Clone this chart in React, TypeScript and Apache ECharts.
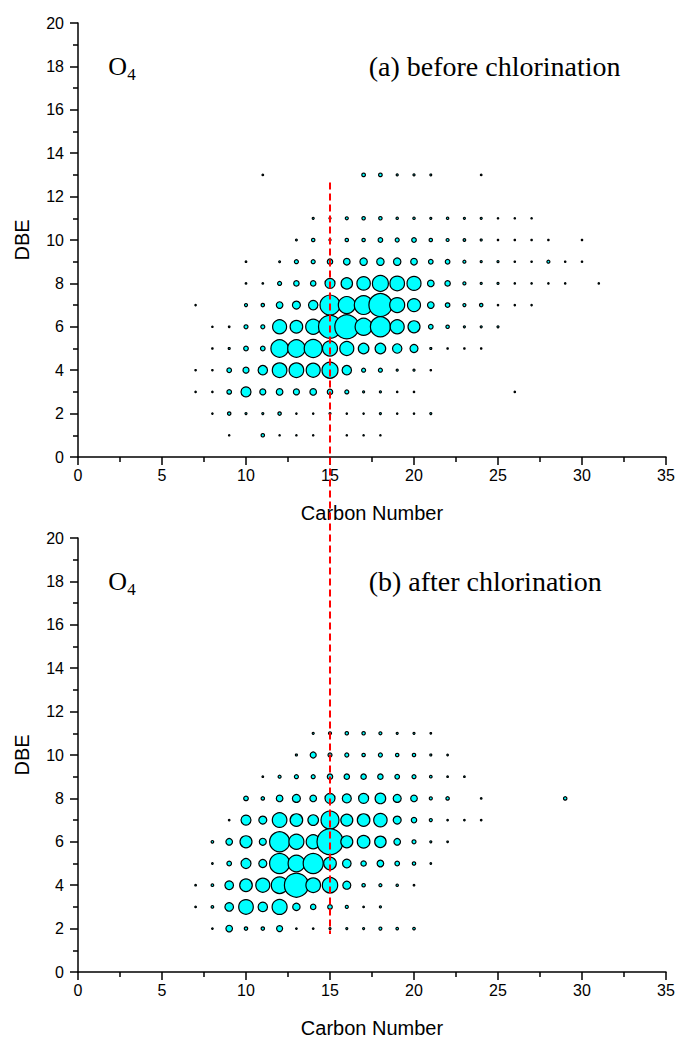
import React, { useEffect, useRef } from "react";
import * as echarts from "echarts";

// [carbon number, DBE, relative abundance (bubble radius units)]
const beforeData: number[][] = [
  // DBE 13
  [11, 13, 0.8], [17, 13, 1.8], [18, 13, 1.8], [19, 13, 1], [20, 13, 1], [21, 13, 0.9], [24, 13, 0.8],
  // DBE 11
  [14, 11, 1], [15, 11, 1], [16, 11, 1.5], [17, 11, 1.7], [18, 11, 1.7], [19, 11, 1.2], [20, 11, 1.2],
  [21, 11, 1], [22, 11, 1.2], [23, 11, 1], [24, 11, 1], [25, 11, 0.7], [26, 11, 0.7], [27, 11, 0.7],
  // DBE 10
  [13, 10, 0.9], [14, 10, 1.7], [15, 10, 1], [16, 10, 1.7], [17, 10, 1.7], [18, 10, 2.3], [19, 10, 2],
  [20, 10, 2.3], [21, 10, 1.7], [22, 10, 1.5], [23, 10, 1.3], [24, 10, 1], [25, 10, 0.7], [26, 10, 0.7],
  [27, 10, 0.7], [28, 10, 0.7], [30, 10, 0.7],
  // DBE 9
  [10, 9, 0.8], [12, 9, 0.9], [13, 9, 2], [14, 9, 2], [15, 9, 2.7], [16, 9, 3.3], [17, 9, 3.7],
  [18, 9, 3.7], [19, 9, 3.7], [20, 9, 3.3], [21, 9, 2.3], [22, 9, 2.3], [23, 9, 1.5], [24, 9, 1],
  [25, 9, 1], [26, 9, 0.7], [27, 9, 0.7], [28, 9, 1.5], [29, 9, 0.7], [30, 9, 0.7],
  // DBE 8
  [10, 8, 0.8], [11, 8, 0.8], [12, 8, 2], [13, 8, 2.7], [14, 8, 2.7], [15, 8, 5], [16, 8, 5.7],
  [17, 8, 6.7], [18, 8, 8], [19, 8, 7.3], [20, 8, 7], [21, 8, 3.3], [22, 8, 2.7], [23, 8, 1.5],
  [24, 8, 1], [25, 8, 1], [26, 8, 0.7], [27, 8, 0.7], [28, 8, 0.7], [29, 8, 0.7], [31, 8, 0.7],
  // DBE 7
  [7, 7, 0.7], [10, 7, 1.5], [11, 7, 1.7], [12, 7, 3.3], [13, 7, 4], [14, 7, 4.7], [15, 7, 10],
  [16, 7, 8.5], [17, 7, 9.3], [18, 7, 11.5], [19, 7, 7.5], [20, 7, 6.5], [21, 7, 3.3], [22, 7, 2.3],
  [23, 7, 1.5], [24, 7, 1.7], [25, 7, 0.7], [26, 7, 0.7], [27, 7, 0.7],
  // DBE 6
  [8, 6, 0.7], [9, 6, 0.8], [10, 6, 2], [11, 6, 2], [12, 6, 7], [13, 6, 6.3], [14, 6, 7.5],
  [15, 6, 11.5], [16, 6, 12], [17, 6, 8.5], [18, 6, 10], [19, 6, 7], [20, 6, 6], [21, 6, 2.3],
  [22, 6, 1.7], [23, 6, 1], [24, 6, 1], [25, 6, 1],
  // DBE 5
  [8, 5, 0.7], [9, 5, 1], [10, 5, 2.3], [11, 5, 2.3], [12, 5, 8.7], [13, 5, 8.7], [14, 5, 9],
  [15, 5, 7.5], [16, 5, 7], [17, 5, 5.3], [18, 5, 5.3], [19, 5, 4.7], [20, 5, 4], [21, 5, 1],
  [22, 5, 0.7], [23, 5, 0.7], [24, 5, 0.7],
  // DBE 4
  [7, 4, 0.7], [8, 4, 0.7], [9, 4, 2.3], [10, 4, 3], [11, 4, 4.7], [12, 4, 7.3], [13, 4, 7.3],
  [14, 4, 7], [15, 4, 8], [16, 4, 4.7], [17, 4, 2], [18, 4, 2], [19, 4, 1], [20, 4, 1], [21, 4, 0.7],
  // DBE 3
  [7, 3, 0.7], [8, 3, 0.7], [9, 3, 2.3], [10, 3, 5], [11, 3, 3], [12, 3, 3.3], [13, 3, 3],
  [14, 3, 3.3], [15, 3, 2.7], [16, 3, 2], [17, 3, 1], [18, 3, 1], [19, 3, 0.7], [20, 3, 0.7], [26, 3, 0.7],
  // DBE 2
  [8, 2, 0.7], [9, 2, 1.7], [10, 2, 1], [11, 2, 1], [12, 2, 1.7], [13, 2, 0.7], [14, 2, 0.7],
  [15, 2, 1], [16, 2, 0.7], [17, 2, 0.7], [18, 2, 1], [19, 2, 0.7], [20, 2, 0.7], [21, 2, 1],
  // DBE 1
  [9, 1, 0.7], [11, 1, 1.7], [12, 1, 0.7], [13, 1, 0.7], [14, 1, 0.7], [16, 1, 0.7], [17, 1, 0.7], [18, 1, 0.7],
];

const afterData: number[][] = [
  // DBE 11
  [14, 11, 1], [15, 11, 1.5], [16, 11, 1.7], [17, 11, 1.7], [18, 11, 1.5], [19, 11, 1], [20, 11, 1], [21, 11, 0.8],
  // DBE 10
  [13, 10, 1], [14, 10, 3], [15, 10, 2], [16, 10, 2], [17, 10, 1.7], [18, 10, 2], [19, 10, 1.7],
  [20, 10, 1.7], [21, 10, 1], [22, 10, 0.8],
  // DBE 9
  [11, 9, 0.8], [12, 9, 1.5], [13, 9, 2], [14, 9, 2], [15, 9, 2.7], [16, 9, 2.7], [17, 9, 2.7],
  [18, 9, 2.7], [19, 9, 2.3], [20, 9, 2], [21, 9, 1.3], [22, 9, 0.8], [23, 9, 0.8],
  // DBE 8
  [10, 8, 2.3], [11, 8, 1.7], [12, 8, 3.3], [13, 8, 4], [14, 8, 3.3], [15, 8, 5], [16, 8, 4.5],
  [17, 8, 5], [18, 8, 5.3], [19, 8, 4], [20, 8, 3.3], [21, 8, 1.5], [22, 8, 1.7], [24, 8, 0.8], [29, 8, 1.7],
  // DBE 7
  [9, 7, 0.8], [10, 7, 5], [11, 7, 4], [12, 7, 7.3], [13, 7, 6.3], [14, 7, 5.3], [15, 7, 9],
  [16, 7, 6], [17, 7, 6.3], [18, 7, 6.7], [19, 7, 4], [20, 7, 2.7], [21, 7, 1.5], [22, 7, 0.8],
  [23, 7, 0.8], [24, 7, 0.8],
  // DBE 6
  [8, 6, 1.3], [9, 6, 3.3], [10, 6, 6], [11, 6, 3.5], [12, 6, 10], [13, 6, 7.5], [14, 6, 7],
  [15, 6, 13], [16, 6, 6], [17, 6, 6.3], [18, 6, 5.7], [19, 6, 3.3], [20, 6, 2], [21, 6, 1], [22, 6, 0.8],
  // DBE 5
  [8, 5, 0.8], [9, 5, 2.3], [10, 5, 5], [11, 5, 4], [12, 5, 10], [13, 5, 8.3], [14, 5, 10],
  [15, 5, 6.3], [16, 5, 4.3], [17, 5, 2.7], [18, 5, 3.3], [19, 5, 2.3], [20, 5, 1.7], [21, 5, 0.8],
  // DBE 4
  [7, 4, 0.8], [8, 4, 1.3], [9, 4, 4.3], [10, 4, 6.3], [11, 4, 7], [12, 4, 8.3], [13, 4, 12],
  [14, 4, 7.3], [15, 4, 7.7], [16, 4, 4], [17, 4, 1.7], [18, 4, 1.5], [19, 4, 1.2], [20, 4, 0.8],
  // DBE 3
  [7, 3, 0.8], [8, 3, 1.3], [9, 3, 4.3], [10, 3, 7.3], [11, 3, 4.7], [12, 3, 7.5], [13, 3, 3.7],
  [14, 3, 2.7], [15, 3, 2.3], [16, 3, 1.5], [17, 3, 0.8], [18, 3, 1],
  // DBE 2
  [8, 2, 0.8], [9, 2, 3.3], [10, 2, 1.7], [11, 2, 1.7], [12, 2, 3], [13, 2, 0.8], [14, 2, 0.8],
  [15, 2, 1], [16, 2, 1], [17, 2, 1], [18, 2, 1.5], [19, 2, 1.3], [20, 2, 1.3],
];

const panelTitles = ["(a) before chlorination", "(b) after chlorination"];
const panelSpecies = ["O", "4"];
const xAxisName = "Carbon Number";
const yAxisName = "DBE";
// reference line at C = 15, from DBE 12.65 in panel (a) down to DBE 1.75 in panel (b)
const refCarbon = 15;
const refTopDBE = 12.65;
const refBottomDBE = 1.75;
// annotation anchors (data coords)
const speciesAnchor = [1.8, 18];
const titleAnchor = [17.3, 18];

const SANS = '"Liberation Sans", Arial, Helvetica, sans-serif';
const SERIF = '"Liberation Serif", "Times New Roman", Times, serif';

export default function App() {
  const ref = useRef<HTMLDivElement>(null);
  useEffect(() => {
    document.body.style.margin = "0";
    const chart = echarts.init(ref.current!, null, { renderer: "svg" });
    const lineStyle = { color: "#000", width: 1.5 };
    const mkX = (gi: number) => ({
      gridIndex: gi,
      type: "value",
      min: 0,
      max: 35,
      interval: 5,
      axisLine: { show: true, lineStyle },
      axisTick: { show: true, inside: false, length: 8, lineStyle },
      minorTick: { show: true, splitNumber: 2, length: 5, lineStyle },
      splitLine: { show: false },
      axisLabel: { color: "#000", fontSize: 16, fontFamily: SANS, margin: 10 },
      name: xAxisName,
      nameLocation: "middle",
      nameGap: 46,
      nameTextStyle: { color: "#000", fontSize: 20, fontFamily: SANS },
    });
    const mkY = (gi: number) => ({
      gridIndex: gi,
      type: "value",
      min: 0,
      max: 20,
      interval: 2,
      axisLine: { show: true, lineStyle },
      axisTick: { show: true, inside: false, length: 8, lineStyle },
      minorTick: { show: true, splitNumber: 2, length: 5, lineStyle },
      splitLine: { show: false },
      axisLabel: { color: "#000", fontSize: 16, fontFamily: SANS, margin: 14 },
      name: yAxisName,
      nameLocation: "middle",
      nameGap: 46,
      nameRotate: 90,
      nameTextStyle: { color: "#000", fontSize: 20, fontFamily: SANS },
    });
    const mkSeries = (gi: number, data: number[][]) => ({
      type: "scatter",
      xAxisIndex: gi,
      yAxisIndex: gi,
      data,
      symbol: "circle",
      symbolSize: (v: number[]) => v[2] * 2,
      itemStyle: { color: "#00FFFF", borderColor: "#000", borderWidth: 1.2, opacity: 1 },
      emphasis: { disabled: true },
    });
    chart.setOption({
      animation: false,
      backgroundColor: "#fff",
      grid: [
        { left: 78, top: 23, width: 588, height: 434 },
        { left: 78, top: 538, width: 588, height: 434 },
      ],
      xAxis: [mkX(0), mkX(1)],
      yAxis: [mkY(0), mkY(1)],
      series: [mkSeries(0, beforeData), mkSeries(1, afterData)],
    });

    const px = (gi: number, pt: number[]) =>
      chart.convertToPixel({ xAxisIndex: gi, yAxisIndex: gi } as any, pt) as number[];
    const top = px(0, [refCarbon, refTopDBE]);
    const bot = px(1, [refCarbon, refBottomDBE]);
    const graphics: any[] = [];
    [0, 1].forEach((gi) => {
      const s = px(gi, speciesAnchor);
      const t = px(gi, titleAnchor);
      graphics.push({
        type: "text",
        x: s[0],
        y: s[1],
        style: { text: panelSpecies[0], fontSize: 26, fontFamily: SERIF, fill: "#000", textAlign: "left", textVerticalAlign: "middle" },
      });
      graphics.push({
        type: "text",
        x: s[0] + 19,
        y: s[1] + 8,
        style: { text: panelSpecies[1], fontSize: 17, fontFamily: SERIF, fill: "#000", textAlign: "left", textVerticalAlign: "middle" },
      });
      graphics.push({
        type: "text",
        x: t[0],
        y: t[1],
        style: { text: panelTitles[gi], fontSize: 28, fontFamily: SERIF, fill: "#000", textAlign: "left", textVerticalAlign: "middle" },
      });
    });
    graphics.push({
      type: "line",
      z: 100,
      shape: { x1: top[0], y1: top[1], x2: bot[0], y2: bot[1] },
      style: { stroke: "#FF0000", lineWidth: 2, lineDash: [7, 4] },
    });
    chart.setOption({ graphic: graphics });
    return () => chart.dispose();
  }, []);
  return <div ref={ref} style={{ width: 681, height: 1041 }} />;
}
